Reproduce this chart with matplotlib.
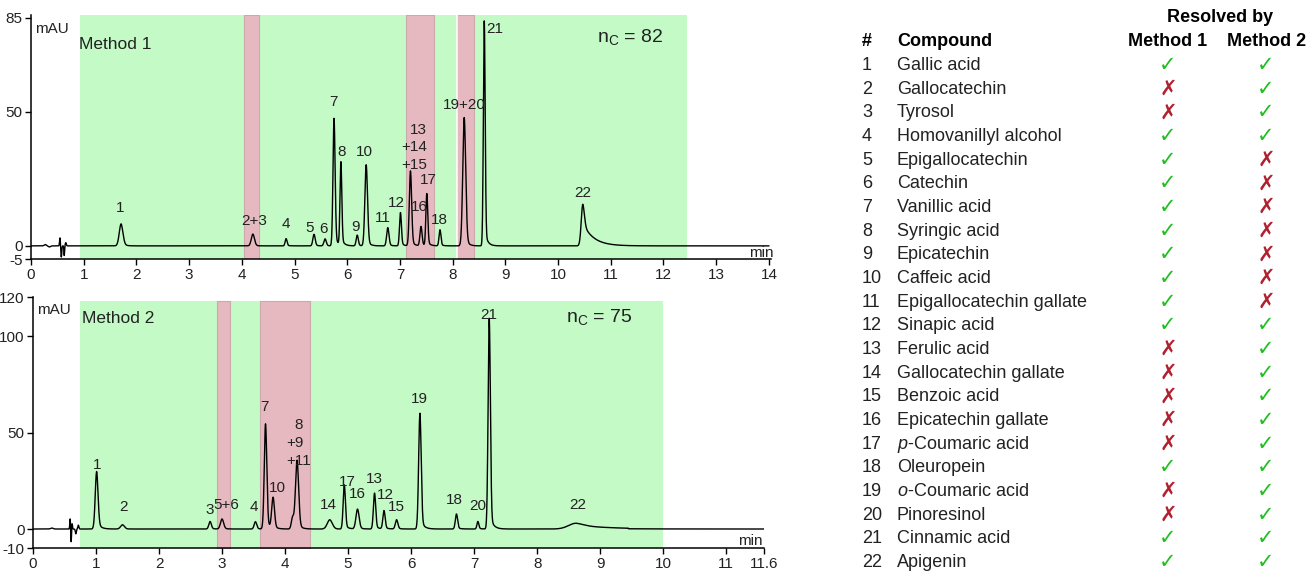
import numpy as np
import matplotlib
matplotlib.use("Agg")
import matplotlib.pyplot as plt

plt.rcParams["font.family"] = ["Liberation Sans", "DejaVu Sans"]
plt.rcParams["mathtext.fontset"] = "custom"
plt.rcParams["mathtext.rm"] = "Liberation Sans"
plt.rcParams["mathtext.it"] = "Liberation Sans:italic"
plt.rcParams["axes.unicode_minus"] = False

GREEN = "#c4fac6"
PINK = "#e6b9c0"
TEXT = "#222222"
OK_C = "#1fbf1f"
BAD_C = "#b0202e"

# ---------------------------------------------------------------------------
# Method 1 chromatogram: peak table (retention time, height, sigma, tail)
# ---------------------------------------------------------------------------
m1_rt = [0.27, 0.35, 0.55, 0.575, 0.63, 0.66, 1.71, 4.21, 4.84, 5.37, 5.58,
         5.75, 5.88, 6.19, 6.36, 6.77, 7.01, 7.20, 7.40, 7.51, 7.76, 8.22,
         8.60, 10.47]
m1_height = [0.5, -0.4, 3.0, -4.2, -3.6, 1.2, 8.2, 4.4, 2.7, 4.3, 2.6,
             47.5, 31.0, 4.0, 30.2, 6.8, 12.4, 27.9, 7.2, 19.4, 6.0, 47.8,
             83.8, 15.5]
m1_sigma = [0.02, 0.02, 0.008, 0.008, 0.006, 0.01, 0.035, 0.03, 0.018, 0.022,
            0.022, 0.02, 0.017, 0.02, 0.025, 0.022, 0.018, 0.022, 0.02, 0.018,
            0.018, 0.028, 0.017, 0.03]
m1_tail = [0, 0, 0, 0, 0, 0, 0.2, 0.1, 0.1, 0.1, 0.1, 0.1, 0.1, 0.1, 0.1,
           0.1, 0.1, 0.1, 0.1, 0.1, 0.1, 0.1, 0.08, 0.55]
m1_tau = [0.05] * 23 + [0.2]

m1_bands_green = [(0.93, 12.45)]
m1_bands_red = [(4.05, 4.33), (7.12, 7.65), (8.09, 8.41)]
m1_gap = 8.075

m1_labels = [("1", 1.69, 14.0), ("2+3", 4.24, 9.2), ("4", 4.84, 8.1),
             ("5", 5.29, 6.8), ("6", 5.55, 6.4), ("7", 5.74, 53.7),
             ("8", 5.90, 34.9), ("9", 6.15, 7.2), ("10", 6.33, 34.9),
             ("11", 6.67, 10.3), ("12", 6.93, 15.9), ("13", 7.35, 43.2),
             ("+14", 7.27, 36.7), ("+15", 7.27, 30.3), ("16", 7.36, 14.3),
             ("17", 7.53, 24.6), ("18", 7.75, 9.7), ("19+20", 8.22, 52.4),
             ("21", 8.79, 80.7), ("22", 10.46, 19.8)]

# ---------------------------------------------------------------------------
# Method 2 chromatogram
# ---------------------------------------------------------------------------
m2_rt = [0.30, 0.59, 0.605, 0.62, 0.68, 0.72, 1.01, 1.42, 2.81, 3.00, 3.53,
         3.69, 3.81, 4.12, 4.19, 4.71, 4.94, 5.15, 5.42, 5.57, 5.77, 6.14,
         6.72, 7.06, 7.24, 8.62]
m2_height = [0.5, 5.5, -7.0, 3.0, -2.5, 2.0, 29.8, 2.2, 3.9, 5.2, 3.8, 54.5,
             16.0, 6.0, 35.5, 4.8, 22.9, 10.3, 18.6, 9.5, 4.8, 60.0, 7.8, 3.9,
             109.2, 3.0]
m2_sigma = [0.02, 0.006, 0.006, 0.006, 0.008, 0.008, 0.022, 0.03, 0.02,
            0.025, 0.02, 0.02, 0.022, 0.02, 0.025, 0.04, 0.018, 0.025, 0.018,
            0.018, 0.02, 0.02, 0.018, 0.015, 0.018, 0.12]
m2_tail = [0, 0, 0, 0, 0, 0, 0.15, 0.1, 0.1, 0.1, 0.1, 0.1, 0.1, 0.1, 0.1,
           0.1, 0.1, 0.1, 0.1, 0.1, 0.1, 0.1, 0.1, 0.1, 0.08, 0.7]
m2_tau = [0.05] * 25 + [0.5]

m2_bands_green = [(0.75, 10.0)]
m2_bands_red = [(2.92, 3.13), (3.60, 4.40)]

m2_labels = [("1", 1.02, 33.3), ("2", 1.43, 11.2), ("3", 2.80, 9.8),
             ("5+6", 3.07, 12.6), ("4", 3.50, 11.2), ("7", 3.68, 63.1),
             ("10", 3.88, 21.5), ("8", 4.22, 54.0), ("+9", 4.16, 44.5),
             ("+11", 4.21, 35.5), ("14", 4.68, 12.6), ("17", 4.98, 24.6),
             ("16", 5.14, 18.3), ("13", 5.42, 26.0), ("12", 5.59, 17.8),
             ("15", 5.77, 11.2), ("19", 6.13, 67.4), ("18", 6.68, 15.2),
             ("20", 7.06, 12.1), ("21", 7.24, 110.9), ("22", 8.65, 12.6)]

# ---------------------------------------------------------------------------
# Table
# ---------------------------------------------------------------------------
compounds = ["Gallic acid", "Gallocatechin", "Tyrosol", "Homovanillyl alcohol",
             "Epigallocatechin", "Catechin", "Vanillic acid", "Syringic acid",
             "Epicatechin", "Caffeic acid", "Epigallocatechin gallate",
             "Sinapic acid", "Ferulic acid", "Gallocatechin gallate",
             "Benzoic acid", "Epicatechin gallate",
             r"$\mathit{p}$-Coumaric acid", "Oleuropein",
             r"$\mathit{o}$-Coumaric acid", "Pinoresinol", "Cinnamic acid",
             "Apigenin"]
resolved_m1 = [1, 0, 0, 1, 1, 1, 1, 1, 1, 1, 1, 1, 0, 0, 0, 0, 0, 1, 0, 0, 1, 1]
resolved_m2 = [1, 1, 1, 1, 0, 0, 0, 0, 0, 0, 0, 1, 1, 1, 1, 1, 1, 1, 1, 1, 1, 1]


def trace(t, rts, hs, sigmas, tails, taus):
    # gaussian peaks, with an exponential tail on the right side
    y = np.zeros_like(t)
    for rt, h, s, f, tau in zip(rts, hs, sigmas, tails, taus):
        dt = t - rt
        g = np.exp(-dt ** 2 / (2 * s ** 2))
        tail = np.where(dt > 0, np.exp(-np.clip(dt, 0, None) / tau), g)
        y += h * ((1 - f) * g + f * tail)
    return y


W, H = 1312, 571
fig = plt.figure(figsize=(W / 100, H / 100), dpi=100)


def frac(px, py):
    return px / W, 1 - py / H


def style_axes(ax):
    for s in ("top", "right"):
        ax.spines[s].set_visible(False)
    for s in ("left", "bottom"):
        ax.spines[s].set_linewidth(1.1)
    ax.tick_params(direction="out", length=4, width=1, labelsize=11,
                   pad=2, colors="black", labelcolor=TEXT)


# top panel
ax1 = fig.add_axes([31 / W, 1 - 259.3 / H, 740 / W, 244.3 / H])
t1 = np.arange(0, 14.0, 0.002)
y1 = trace(t1, m1_rt, m1_height, m1_sigma, m1_tail, m1_tau)
for a, b in m1_bands_green:
    ax1.axvspan(a, b, color=GREEN, lw=0, zorder=0)
for a, b in m1_bands_red:
    ax1.axvspan(a, b, facecolor=PINK, edgecolor="#c9a9a9", lw=0.8, zorder=1)
ax1.axvline(m1_gap, color="white", lw=1.2, zorder=1)
ax1.plot(t1, y1, color="black", lw=1.0, zorder=3)
ax1.set_xlim(0, 14.04)
ax1.set_ylim(-5, 86.0)
ax1.set_xticks(range(0, 15))
ax1.set_yticks([-5, 0, 50, 85])
style_axes(ax1)
for txt, x, y in m1_labels:
    ax1.text(x, y, txt, ha="center", va="center", fontsize=11, color=TEXT, zorder=4)
ax1.text(0.08, 80.7, "mAU", ha="left", va="center", fontsize=11, color=TEXT)
ax1.text(0.92, 75.0, "Method 1", ha="left", va="center", fontsize=12.5, color=TEXT)
ax1.text(11.37, 77.8, r"n$_\mathrm{C}$ = 82", ha="center", va="center",
         fontsize=14, color=TEXT)
ax1.text(14.08, -2.7, "min", ha="right", va="center", fontsize=11, color=TEXT)

# bottom panel
ax2 = fig.add_axes([33 / W, 1 - 548.3 / H, 731 / W, 251.6 / H])
t2 = np.arange(0, 11.6, 0.002)
y2 = trace(t2, m2_rt, m2_height, m2_sigma, m2_tail, m2_tau)
y2 = np.where(t2 > 9.45, y2 * 0.3, y2)
for a, b in m2_bands_green:
    ax2.fill_between([a, b], -10, 118, color=GREEN, lw=0, zorder=0)
for a, b in m2_bands_red:
    ax2.fill_between([a, b], -10, 118, facecolor=PINK, edgecolor="#c9a9a9",
                     lw=0.8, zorder=1)
ax2.plot(t2, y2, color="black", lw=1.0, zorder=3)
ax2.set_xlim(0, 11.6)
ax2.set_ylim(-10, 120.4)
ax2.set_xticks(list(range(0, 12)) + [11.6])
ax2.set_xticklabels([str(i) for i in range(0, 12)] + ["11.6"])
ax2.set_yticks([-10, 0, 50, 100, 120])
style_axes(ax2)
for txt, x, y in m2_labels:
    ax2.text(x, y, txt, ha="center", va="center", fontsize=11, color=TEXT, zorder=4)
ax2.text(0.06, 113.5, "mAU", ha="left", va="center", fontsize=11, color=TEXT)
ax2.text(0.77, 109.2, "Method 2", ha="left", va="center", fontsize=12.5, color=TEXT)
ax2.text(8.98, 109.7, r"n$_\mathrm{C}$ = 75", ha="center", va="center",
         fontsize=14, color=TEXT)
ax2.text(11.57, -6.0, "min", ha="right", va="center", fontsize=11, color=TEXT)

# table
fs = 13
fig.text(*frac(1220, 18), "Resolved by", ha="center", va="center",
         fontsize=fs, fontweight="bold", color="black")
fig.text(*frac(862, 42), "#", ha="left", va="center", fontsize=fs,
         fontweight="bold", color="black")
fig.text(*frac(897, 42), "Compound", ha="left", va="center", fontsize=fs,
         fontweight="bold", color="black")
fig.text(*frac(1168, 42), "Method 1", ha="center", va="center", fontsize=fs,
         fontweight="bold", color="black")
fig.text(*frac(1267, 42), "Method 2", ha="center", va="center", fontsize=fs,
         fontweight="bold", color="black")
row_h = 23.67
for i, name in enumerate(compounds):
    py = 65.5 + i * row_h
    fig.text(*frac(862, py), str(i + 1), ha="left", va="center", fontsize=fs,
             color=TEXT)
    fig.text(*frac(897, py), name, ha="left", va="center", fontsize=fs,
             color=TEXT)
    for px, ok in ((1168, resolved_m1[i]), (1266, resolved_m2[i])):
        fig.text(*frac(px, py - 0.5), "\u2713" if ok else "\u2717", ha="center",
                 va="center", fontsize=15, color=OK_C if ok else BAD_C,
                 family="DejaVu Sans")

fig.savefig("out.png", dpi=100)
